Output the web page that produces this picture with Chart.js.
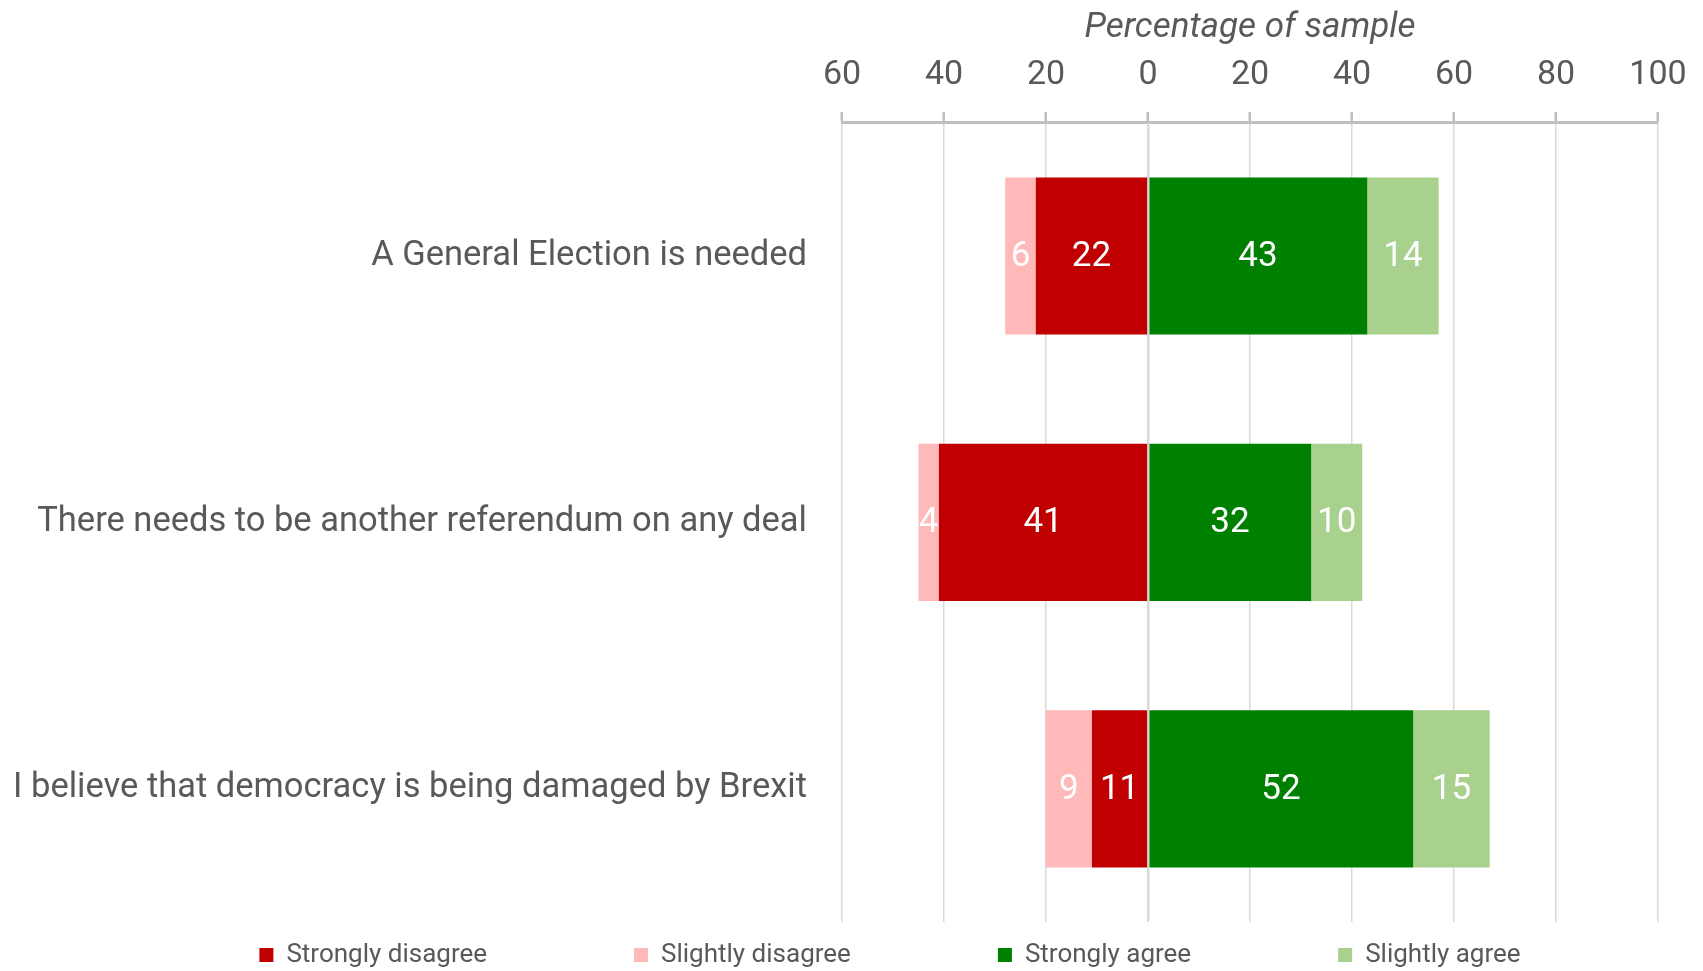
<!DOCTYPE html>
<html><head><meta charset="utf-8">
<script src="https://cdn.jsdelivr.net/npm/chart.js@4"></script>
<style>html,body{margin:0;padding:0;background:#fff}#wrap{width:1703px;height:971px}</style>
</head><body><div id="wrap"><canvas id="c" width="1703" height="971"></canvas></div>
<script>
const categories = ["A General Election is needed", "There needs to be another referendum on any deal", "I believe that democracy is being damaged by Brexit"];
const stronglyDisagree = [22, 41, 11];
const slightlyDisagree = [6, 4, 9];
const stronglyAgree = [43, 32, 52];
const slightlyAgree = [14, 10, 15];
const seriesNames = ["Strongly disagree", "Slightly disagree", "Strongly agree", "Slightly agree"];
const axisMin = -60, axisMax = 100, axisStep = 20;
const axisTitle = "Percentage of sample";

const FONT = "Roboto, 'Open Sans', sans-serif";
const TXT = '#595959';

const valueLabels = {
  id: 'valueLabels',
  afterDatasetsDraw(chart) {
    const ctx = chart.ctx;
    const xs = chart.scales.x;
    const area = chart.chartArea;
    const x0 = Math.round(xs.getPixelForValue(0)) + 0.5;
    ctx.save();
    ctx.strokeStyle = '#d9d9d9';
    ctx.lineWidth = 2;
    ctx.beginPath();
    ctx.moveTo(x0, area.top);
    ctx.lineTo(x0, area.bottom);
    ctx.stroke();
    ctx.fillStyle = '#ffffff';
    ctx.font = "35px " + FONT;
    ctx.textAlign = 'center';
    ctx.textBaseline = 'middle';
    chart.data.datasets.forEach((ds, di) => {
      const meta = chart.getDatasetMeta(di);
      meta.data.forEach((el, i) => {
        const v = Math.abs(ds.data[i]);
        const cx = (el.x + el.base) / 2;
        ctx.fillText(String(v), cx, el.y + 1);
      });
    });
    ctx.restore();
  }
};

const legendMove = {
  id: 'legendMove',
  afterLayout(chart) {
    const lg = chart.legend;
    if (!lg) return;
    const pad = chart.options.plugins.legend.labels.padding;
    const fs = chart.options.plugins.legend.labels.font.size;
    const d = 890 - (lg.left + lg.right) / 2;
    lg.left += d; lg.right += d;
    lg.top = 955 - pad - fs / 2;
    lg.bottom = chart.height;
  }
};

new Chart(document.getElementById('c'), {
  type: 'bar',
  data: {
    labels: categories,
    datasets: [
      { label: seriesNames[0], data: stronglyDisagree.map(v => -v), backgroundColor: '#C00000' },
      { label: seriesNames[1], data: slightlyDisagree.map(v => -v), backgroundColor: '#FFB9B9' },
      { label: seriesNames[2], data: stronglyAgree, backgroundColor: '#008000' },
      { label: seriesNames[3], data: slightlyAgree, backgroundColor: '#A9D18E' }
    ]
  },
  options: {
    indexAxis: 'y',
    responsive: false,
    animation: false,
    devicePixelRatio: 1,
    layout: { padding: { top: 7, left: 6, right: 45, bottom: 0 } },
    datasets: { bar: { categoryPercentage: 1, barPercentage: 0.59, borderWidth: 0 } },
    scales: {
      x: {
        stacked: true,
        position: 'top',
        min: axisMin, max: axisMax,
        ticks: {
          stepSize: axisStep,
          callback: v => Math.abs(v),
          color: TXT,
          font: { family: FONT, size: 34 },
          padding: 16
        },
        grid: { color: '#d9d9d9', lineWidth: 1.5, tickColor: '#bfbfbf', tickLength: 11, tickWidth: 2.5 },
        border: { color: '#bfbfbf', width: 3 },
        title: {
          display: true, text: axisTitle, color: TXT,
          font: { family: FONT, size: 35, style: 'italic' },
          padding: { top: 0, bottom: -10 }
        }
      },
      y: {
        stacked: true,
        grid: { display: false },
        border: { display: false },
        ticks: { color: TXT, font: { family: FONT, size: 34.5 }, padding: 27 },
        afterFit(s) { s.width = 836; }
      }
    },
    plugins: {
      legend: {
        position: 'bottom',
        maxHeight: 49,
        labels: { boxWidth: 14, boxHeight: 14, color: TXT, font: { family: FONT, size: 26 }, padding: 147 }
      },
      tooltip: { enabled: false }
    }
  },
  plugins: [valueLabels, legendMove]
});
</script>
</body></html>
